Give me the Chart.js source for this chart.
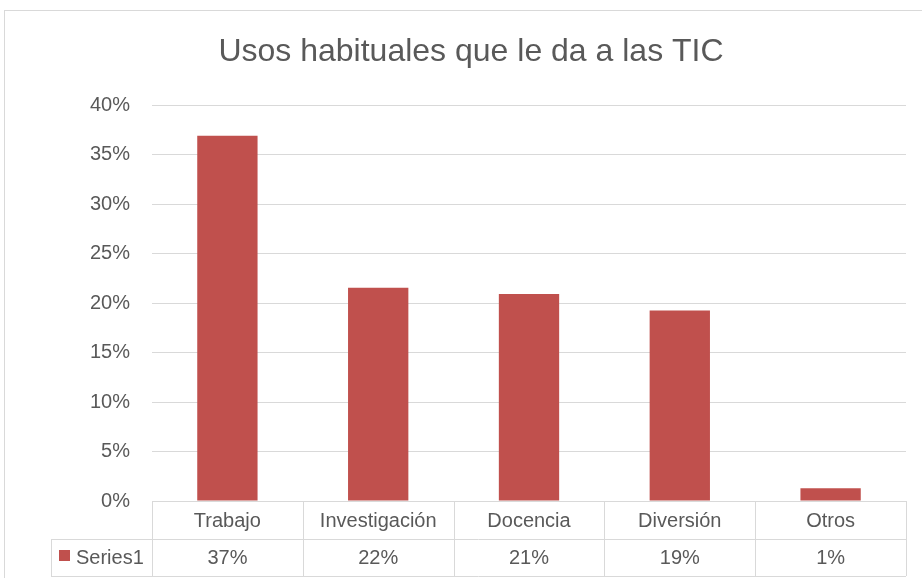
<!DOCTYPE html>
<html>
<head>
<meta charset="utf-8">
<script src="https://cdn.jsdelivr.net/npm/chart.js@4"></script>
<style>
  html, body { margin: 0; padding: 0; background: #fff; }
  #wrap { width: 922px; height: 578px; }
</style>
</head>
<body>
<div id="wrap"><canvas id="usosChart" width="922" height="578"></canvas></div>
<script>
const categorias = ['Trabajo', 'Investigación', 'Docencia', 'Diversión', 'Otros']
const valores = [0.369, 0.2155, 0.209, 0.1925, 0.013]
const serieNombre = 'Series1'
const titulo = 'Usos habituales que le da a las TIC'

const fuente = "'Liberation Sans', 'DejaVu Sans', sans-serif"
const gris = '#595959'
const linea = '#d9d9d9'
const rojo = '#c0504d'

// marco, titulo y tabla de datos bajo el grafico
const tablaPlugin = {
    id: 'tabla',
    afterDraw(chart) {
        const ctx = chart.ctx
        const x = chart.scales.x
        const area = chart.chartArea
        const fila1 = area.bottom
        const fila2 = fila1 + 38
        const fila3 = fila2 + 37
        const izq = 51
        const ancho = (area.right - area.left) / categorias.length

        ctx.save()
        ctx.strokeStyle = linea
        ctx.lineWidth = 1
        ctx.strokeRect(4.5, 10.5, 1200, 1000)

        ctx.fillStyle = gris
        ctx.font = '32px ' + fuente
        ctx.textAlign = 'center'
        ctx.textBaseline = 'middle'
        ctx.fillText(titulo, 471, 52)

        ctx.beginPath()
        ctx.moveTo(area.left, fila1 + 0.5); ctx.lineTo(area.right, fila1 + 0.5)
        ctx.moveTo(izq, fila2 + 0.5); ctx.lineTo(area.right, fila2 + 0.5)
        ctx.moveTo(izq, fila3 + 0.5); ctx.lineTo(area.right, fila3 + 0.5)
        ctx.moveTo(izq + 0.5, fila2); ctx.lineTo(izq + 0.5, fila3)
        for (let i = 0; i <= categorias.length; i++) {
            const px = Math.round(area.left + i * ancho) + 0.5
            ctx.moveTo(px, fila1); ctx.lineTo(px, fila3)
        }
        ctx.stroke()

        ctx.font = '20px ' + fuente
        categorias.forEach((c, i) => {
            const cx = x.getPixelForValue(i)
            ctx.fillText(c, cx, (fila1 + fila2) / 2 + 1)
            ctx.fillText(Math.round(valores[i] * 100) + '%', cx, (fila2 + fila3) / 2 + 1)
        })

        ctx.fillStyle = rojo
        ctx.fillRect(59, 550, 11, 11)
        ctx.fillStyle = gris
        ctx.textAlign = 'left'
        ctx.fillText(serieNombre, 76, (fila2 + fila3) / 2 + 1)
        ctx.restore()
    }
}

const ctx = document.getElementById('usosChart').getContext('2d')
new Chart(ctx, {
    type: 'bar',
    data: {
        labels: categorias,
        datasets: [{
            label: serieNombre,
            data: valores,
            backgroundColor: rojo,
            borderWidth: 0,
            categoryPercentage: 1,
            barPercentage: 0.4
        }]
    },
    options: {
        responsive: false,
        animation: false,
        layout: { padding: { left: 0, right: 16, top: 105, bottom: 77 } },
        plugins: {
            legend: { display: false },
            title: { display: false },
            tooltip: { enabled: false }
        },
        scales: {
            x: { display: false },
            y: {
                min: 0,
                max: 0.4,
                afterFit(scale) { scale.width = 152 },
                border: { display: false },
                grid: { color: linea, lineWidth: 1, drawTicks: false },
                ticks: {
                    stepSize: 0.05,
                    padding: 22,
                    color: gris,
                    font: { family: fuente, size: 20 },
                    callback: v => Math.round(v * 100) + '%'
                }
            }
        }
    },
    plugins: [tablaPlugin]
})
</script>
</body>
</html>
